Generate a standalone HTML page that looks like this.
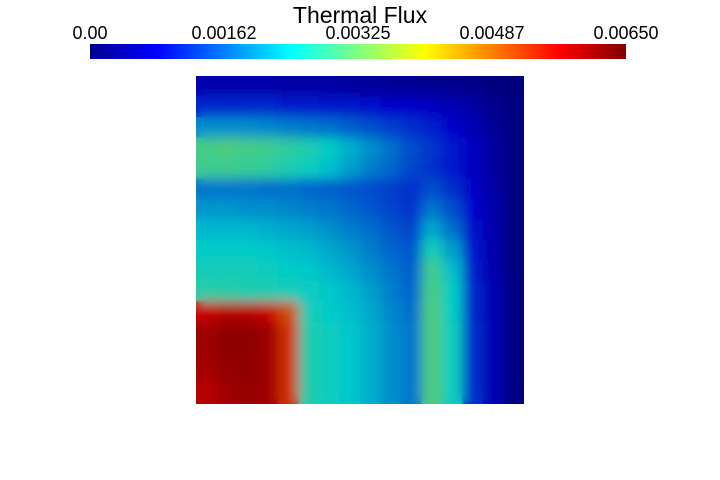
<!DOCTYPE html>
<html><head><meta charset="utf-8"><style>
html,body{margin:0;padding:0;background:#fff;width:720px;height:480px;overflow:hidden}
svg{display:block;font-family:"Liberation Sans","DejaVu Sans",sans-serif}
</style></head><body>
<svg id="chart" width="720" height="480">
<defs>
<linearGradient id="jet" x1="0" x2="1" y1="0" y2="0">
<stop offset="0" stop-color="#00008f"/><stop offset="0.125" stop-color="#0000ff"/>
<stop offset="0.375" stop-color="#00ffff"/><stop offset="0.625" stop-color="#ffff00"/>
<stop offset="0.875" stop-color="#ff0000"/><stop offset="1" stop-color="#800000"/>
</linearGradient>
<filter id="blur" x="0" y="0" width="1" height="1"><feGaussianBlur stdDeviation="6" edgeMode="duplicate"/></filter>
<clipPath id="clip"><rect x="196" y="76" width="328" height="328"/></clipPath>
</defs>
<text x="360" y="23" text-anchor="middle" font-size="23" fill="#000">Thermal Flux</text>
<rect x="90" y="44" width="536" height="15" fill="url(#jet)"/>
<g id="ticks"></g>
<g clip-path="url(#clip)"><g id="base"></g><g id="cells" filter="url(#blur)"></g></g>
</svg>
<script>
const vmax = 0.0065;
const tickLabels = ["0.00","0.00162","0.00325","0.00487","0.00650"];
const tickValues = [0, 0.001625, 0.00325, 0.004875, 0.0065];
const fluxRows = [
[0.08,0.08,0.08,0.08,0.07,0.07,0.07,0.06,0.06,0.05,0.05,0.04,0.04,0.03,0.02,0.01],
[0.17,0.17,0.17,0.17,0.16,0.16,0.15,0.15,0.14,0.13,0.12,0.11,0.09,0.07,0.04,0.02],
[0.30,0.30,0.30,0.29,0.28,0.27,0.26,0.24,0.22,0.20,0.18,0.16,0.13,0.09,0.05,0.02],
[0.46,0.47,0.46,0.45,0.43,0.41,0.38,0.34,0.30,0.26,0.22,0.19,0.15,0.11,0.06,0.02],
[0.45,0.45,0.44,0.43,0.41,0.39,0.36,0.32,0.28,0.25,0.21,0.18,0.15,0.11,0.06,0.02],
[0.27,0.27,0.27,0.26,0.26,0.25,0.24,0.23,0.22,0.20,0.18,0.22,0.18,0.12,0.07,0.02],
[0.31,0.31,0.30,0.30,0.29,0.28,0.27,0.25,0.23,0.21,0.19,0.27,0.22,0.13,0.08,0.02],
[0.35,0.35,0.35,0.34,0.33,0.32,0.30,0.28,0.26,0.23,0.21,0.33,0.26,0.14,0.08,0.02],
[0.38,0.38,0.38,0.37,0.36,0.35,0.33,0.31,0.28,0.25,0.23,0.40,0.32,0.15,0.08,0.02],
[0.40,0.40,0.40,0.39,0.38,0.37,0.35,0.33,0.30,0.27,0.24,0.45,0.36,0.16,0.08,0.02],
[0.42,0.42,0.41,0.41,0.40,0.39,0.37,0.35,0.32,0.28,0.25,0.46,0.38,0.17,0.09,0.02],
[0.88,0.90,0.90,0.88,0.78,0.40,0.38,0.36,0.33,0.29,0.26,0.47,0.38,0.17,0.09,0.02],
[0.93,0.95,0.95,0.93,0.82,0.41,0.39,0.37,0.34,0.30,0.27,0.47,0.39,0.18,0.09,0.02],
[0.93,0.95,0.95,0.93,0.82,0.41,0.39,0.37,0.34,0.30,0.27,0.47,0.39,0.18,0.09,0.02],
[0.92,0.94,0.95,0.93,0.82,0.41,0.39,0.37,0.34,0.30,0.27,0.47,0.39,0.18,0.09,0.02],
[0.90,0.93,0.94,0.93,0.82,0.41,0.39,0.37,0.34,0.30,0.27,0.47,0.39,0.18,0.09,0.02]
];
const NS="http://www.w3.org/2000/svg";
const px0=196, py0=76, size=328, bx0=90, bw=536, shade=0.8;
function xScale(c,n){return px0 + c*size/n;}
function yScale(r,n){return py0 + r*size/n;}
function barX(v){return bx0 + v/vmax*bw;}
function jet(t,k){
  t=Math.max(0,Math.min(1,t));
  const stops=[[0,0,0,143],[0.125,0,0,255],[0.375,0,255,255],[0.625,255,255,0],[0.875,255,0,0],[1,128,0,0]];
  for(let i=1;i<stops.length;i++){ if(t<=stops[i][0]){const a=stops[i-1],b=stops[i],f=(t-a[0])/(b[0]-a[0]);
    return `rgb(${Math.round(k*(a[1]+f*(b[1]-a[1])))},${Math.round(k*(a[2]+f*(b[2]-a[2])))},${Math.round(k*(a[3]+f*(b[3]-a[3])))})`;}}
  return "rgb(128,0,0)";
}
const ticks=document.getElementById('ticks');
tickLabels.forEach((lab,i)=>{
  const t=document.createElementNS(NS,'text');
  let x=barX(tickValues[i]);
  if(i===0) x=Math.max(x,84);
  t.setAttribute('x',x); t.setAttribute('y',39); t.setAttribute('text-anchor','middle');
  t.setAttribute('font-size','18'); t.textContent=lab;
  
  
  ticks.appendChild(t);
});
const base=document.getElementById('base'), cells=document.getElementById('cells');
const nR=fluxRows.length;
fluxRows.forEach((row,r)=>{
  const nC=row.length;
  row.forEach((v,c)=>{
    const val=v*vmax;
    [base,cells].forEach(g=>{
      const rc=document.createElementNS(NS,'rect');
      rc.setAttribute('x',xScale(c,nC)); rc.setAttribute('y',yScale(r,nR));
      rc.setAttribute('width',size/nC+0.5); rc.setAttribute('height',size/nR+0.5);
      rc.setAttribute('fill',jet(val/vmax,shade));
      
      
      g.appendChild(rc);
    });
  });
});
</script>
</body></html>
